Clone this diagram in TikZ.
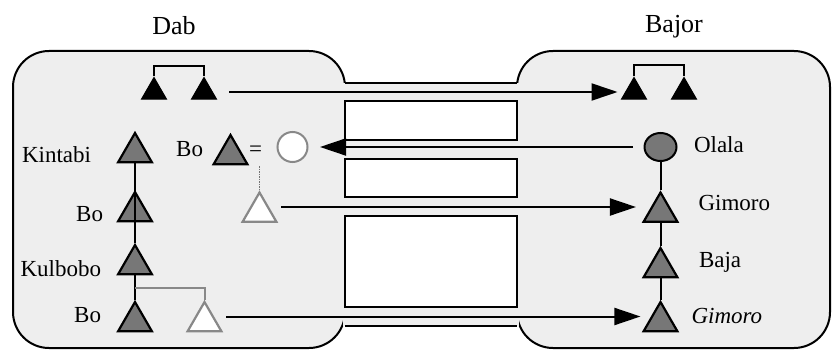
\documentclass[tikz,border=0pt]{standalone}
\usepackage{fontspec}
\setmainfont{Liberation Serif}
\usetikzlibrary{shapes.geometric,arrows.meta}
\definecolor{boxGray}{RGB}{238,238,238}
\definecolor{triGray}{RGB}{119,119,119}
\definecolor{lineGray}{RGB}{136,136,136}
\newcommand{\lblfont}{\fontsize{23}{26}\selectfont}
\newcommand{\ttlfont}{\fontsize{26}{30}\selectfont}

\begin{document}
\begin{tikzpicture}[x=1pt, y=-1pt, line width=2pt, >={Triangle[length=26pt,width=17pt]}]
	\useasboundingbox (0,0) rectangle (832,350);

	% Areas
	\begin{scope}[every path/.style={fill=boxGray, draw=black, rounded corners=36pt}]
		\draw (13,51) rectangle (345,348);
		\draw (517,51) rectangle (830,348);
	\end{scope}
	\fill[boxGray] (343,83) rectangle (519,326);
	\begin{scope}[every path/.style={fill=white, draw=black}]
		\draw (345,101) rectangle (517,140);
		\draw (345,159) rectangle (517,197);
		\draw (345,216) rectangle (517,307);
	\end{scope}
	\draw (345,83) -- (517,83);
	\draw (345,326) -- (517,326);

	% Set names
	\node[font=\ttlfont, anchor=base] at (174,35) {Dab};
	\node[font=\ttlfont, anchor=base] at (674,33) {Bajor};

	% Couples
	\begin{scope}[every node/.style={regular polygon, regular polygon sides=3, minimum size=29pt, inner sep=0pt, fill=black, draw=black, line width=1pt}]
		\node (lt1) at (154,92) {};
		\node (lt2) at (204,92) {};
		\node (rt1) at (634,92) {};
		\node (rt2) at (684,92) {};
	\end{scope}
	\draw (lt1.north) -- ++(0,-10) -| (lt2.north);
	\draw (rt1.north) -- ++(0,-11) -| (rt2.north);

	% Set elements
	\begin{scope}[every node/.style={regular polygon, regular polygon sides=3, minimum size=39pt, inner sep=0pt, fill=triGray, draw=black, line width=2.2pt}]
		\node (kin) at (135,152.5) {};
		\node (boa) at (230.5,154.5) {};
		\node (bob) at (135,211.5) {};
		\node (kul) at (135,264.5) {};
		\node (boc) at (135,321.5) {};
		\node (gim) at (660.5,212) {};
		\node (baj) at (660.5,267.5) {};
		\node (gimi) at (660.5,321.5) {};
	\end{scope}
	\begin{scope}[every node/.style={regular polygon, regular polygon sides=3, minimum size=39pt, inner sep=0pt, fill=white, draw=lineGray, line width=2.2pt}]
		\node (wa) at (259.5,212) {};
		\node (wb) at (204.5,321.5) {};
	\end{scope}
	\node (ola) [ellipse, minimum width=32pt, minimum height=28pt, inner sep=0pt, fill=triGray, draw=black] at (660.5,147) {};
	\node (cir) [circle, minimum size=30pt, inner sep=0pt, fill=white, draw=lineGray] at (292.5,147) {};

	% Labels
	\begin{scope}[every node/.style={font=\lblfont, inner sep=0pt}]
		\node[anchor=base east] at (92,162) {Kintabi};
		\node[anchor=base east] at (204,157) {Bo};
		\node (eq) at (255.5,151) {=};
		\node[anchor=base east] at (104,221) {Bo};
		\node[anchor=base east] at (102,276) {Kulbobo};
		\node[anchor=base east] at (102,322) {Bo};
		\node[anchor=base west] at (693,152) {Olala};
		\node[anchor=base west] at (697.5,210) {Gimoro};
		\node[anchor=base west] at (698,267) {Baja};
		\node[anchor=base west] at (690.5,323) {\itshape Gimoro};
	\end{scope}

	% Lines
	\draw (kin.south) -- (kul.north);
	\draw (kul.south) -- (boc.north);
	\draw (ola.south) -- (gim.north);
	\draw (gim.south) -- (baj.north);
	\draw (baj.south) -- (gimi.north);
	\coordinate (br) at (135,288);
	\draw[lineGray] (br) -| (wb.north);
	\coordinate (dt) at (259.5,166);
	\draw[black!55, densely dotted, line width=1.5pt] (dt) -- (wa.north);

	% Arrows
	\draw[->, shorten <=16.5pt, shorten >=7.5pt] (lt2.east) -- (rt1.west);
	\draw[->, shorten <=10.5pt, shorten >=11.5pt] (ola.west) -- (cir.east);
	\draw[->, shorten <=9pt, shorten >=12pt] ([yshift=5pt]wa.east) -- ([yshift=5pt]gim.west);
	\draw[->, shorten <=9pt, shorten >=7.5pt] ([yshift=5pt]wb.east) -- ([yshift=5pt]gimi.west);
\end{tikzpicture}
\end{document}
